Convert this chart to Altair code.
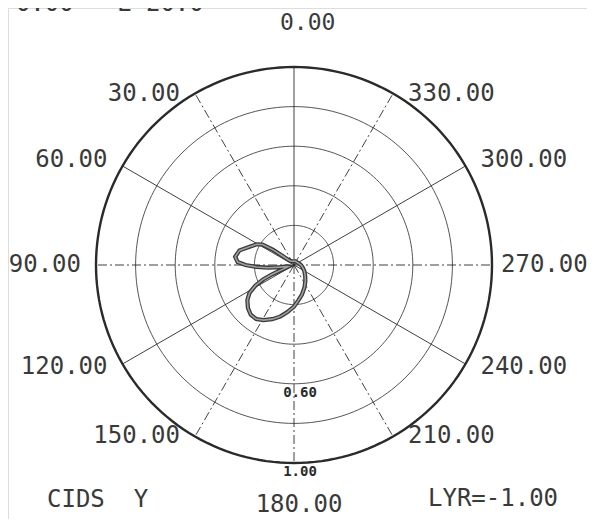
import altair as alt
import pandas as pd
import numpy as np

# ---- data ----
pat_theta = [0, 20, 40, 48, 52, 54, 57, 61, 67, 75, 82, 87, 90, 93, 96, 99, 102,
             106, 110, 113, 115, 118, 122, 127, 133, 139, 145, 151, 158, 165, 172,
             180, 187, 195, 205, 215, 225, 240, 255, 270, 290, 320, 340, 360]
pat_r = [0.02, 0.02, 0.025, 0.04, 0.08, 0.13, 0.19, 0.215, 0.24, 0.285, 0.30, 0.285,
         0.245, 0.19, 0.13, 0.07, 0.035,
         0.03, 0.05, 0.12, 0.17, 0.22, 0.265, 0.295, 0.318, 0.333, 0.333, 0.318,
         0.295, 0.27, 0.24, 0.21, 0.18, 0.155, 0.125, 0.10, 0.08, 0.06, 0.045,
         0.035, 0.025, 0.02, 0.02, 0.02]
ring_values = [0.2, 0.4, 0.6, 0.8, 1.0]
spoke_solid = [0, 60, 120, 240, 300]
spoke_dashed = [30, 90, 150, 180, 210, 270, 330]
angle_labels = [30, 60, 90, 120, 150, 210, 240, 270, 300, 330]
ring_label_values = [0.6, 1.0]
NB = "\u00a0"
top_left_text = "H=0.00" + NB * 3 + "L=20.0"
footer_left = "CIDS" + NB * 2 + "Y"
footer_right = "LYR=-1.00"

W, H = 579, 511
CX, CY, R = 286, 257, 198
xdom = [-CX / R, (W - CX) / R]
ydom = [-(H - CY) / R, CY / R]
xs = alt.Scale(domain=xdom, nice=False, zero=False)
ys = alt.Scale(domain=ydom, nice=False, zero=False)
FONT = "DejaVu Sans Mono"
INK = "#2a2a2a"


def polar(theta_deg, r):
    t = np.radians(np.asarray(theta_deg, dtype=float))
    r = np.asarray(r, dtype=float)
    return -r * np.sin(t), r * np.cos(t)


# pattern
px, py = polar(pat_theta, pat_r)
pat = pd.DataFrame({"x": px, "y": py, "o": range(len(px))})

# rings
grid = np.arange(0, 361, 2)
rows = []
for rv in ring_values:
    gx, gy = polar(grid, np.full(len(grid), rv))
    for i, (a, b) in enumerate(zip(gx, gy)):
        rows.append({"x": a, "y": b, "o": i, "ring": rv})
rings = pd.DataFrame(rows)


def spokes(angles):
    ex, ey = polar(angles, np.ones(len(angles)))
    return pd.DataFrame({"x": 0.0, "y": 0.0, "x2": ex, "y2": ey})


def labels(angles):
    ex, ey = polar(angles, np.ones(len(angles)))
    return pd.DataFrame({"x": ex, "y": ey, "t": [f"{a:.2f}" for a in angles]})


enc = dict(x=alt.X("x:Q", scale=xs, axis=None), y=alt.Y("y:Q", scale=ys, axis=None))

inner = alt.Chart(rings[rings.ring < 1.0]).mark_line(
    color=INK, strokeWidth=0.8).encode(order="o:Q", detail="ring:N", **enc)
outer = alt.Chart(rings[rings.ring == 1.0]).mark_line(
    color=INK, strokeWidth=2.4).encode(order="o:Q", **enc)

sp_solid = alt.Chart(spokes(spoke_solid)).mark_rule(
    color=INK, strokeWidth=0.9).encode(x2="x2:Q", y2="y2:Q", **enc)
sp_dash = alt.Chart(spokes(spoke_dashed)).mark_rule(
    color=INK, strokeWidth=0.9, strokeDash=[9, 3, 2, 3]).encode(x2="x2:Q", y2="y2:Q", **enc)

pat_dark = alt.Chart(pat).mark_line(color="#3a3a3a", strokeWidth=4.2).encode(order="o:Q", **enc)
pat_light = alt.Chart(pat).mark_line(color="#a0a0a0", strokeWidth=1.6).encode(order="o:Q", **enc)

TXT_COLOR = "#3a3a3a"
txt = dict(font=FONT, fontSize=24, color=TXT_COLOR, baseline="middle")

# label offsets (layout only): angle -> (align, dx, dy)
label_style = {30: ("right", -15, 0), 60: ("right", -15, -6), 90: ("right", -15, 0),
               120: ("right", -15, 3), 150: ("right", -15, 0),
               210: ("left", 15, 0), 240: ("left", 15, 3), 270: ("left", 9, 0),
               300: ("left", 15, -6), 330: ("left", 15, 0)}
lab_layers = []
for a in angle_labels:
    al, dx, dy = label_style[a]
    lab_layers.append(alt.Chart(labels([a])).mark_text(align=al, dx=dx, dy=dy, **txt)
                      .encode(text="t:N", **enc))
lab_top = alt.Chart(labels([0])).mark_text(
    align="left", dx=-14, dy=-55, font=FONT, fontSize=23, color=TXT_COLOR,
    baseline="top").encode(text="t:N", **enc)
lab_bot = alt.Chart(labels([180])).mark_text(align="center", dx=5, dy=42, **txt).encode(text="t:N", **enc)

rl = pd.DataFrame({"x": 0.0, "y": [-v for v in ring_label_values],
                   "t": [f"{v:.2f}" for v in ring_label_values]})
ring_lab = alt.Chart(rl).mark_text(font=FONT, fontSize=14, fontWeight="bold", color=INK,
                                   align="center", baseline="middle", dx=6, dy=9).encode(text="t:N", **enc)

f_left = alt.Chart(pd.DataFrame({"t": [footer_left]})).mark_text(
    align="left", **txt).encode(text="t:N", x=alt.value(39), y=alt.value(492))
f_right = alt.Chart(pd.DataFrame({"t": [footer_right]})).mark_text(
    align="left", **txt).encode(text="t:N", x=alt.value(420), y=alt.value(491))
f_top = alt.Chart(pd.DataFrame({"t": [top_left_text]})).mark_text(
    align="left", font=FONT, fontSize=24, color=TXT_COLOR, baseline="alphabetic").encode(
    text="t:N", x=alt.value(-21), y=alt.value(3))

chart = alt.layer(inner, outer, sp_solid, sp_dash, pat_dark, pat_light,
                  *lab_layers, lab_top, lab_bot, ring_lab,
                  f_left, f_right, f_top).properties(
    width=W, height=H, padding=0, autosize=alt.AutoSizeParams(type="none")
).configure_view(stroke=None).configure(background="white")

chart.save("out.html", embed_options={"renderer": "svg", "actions": False})
